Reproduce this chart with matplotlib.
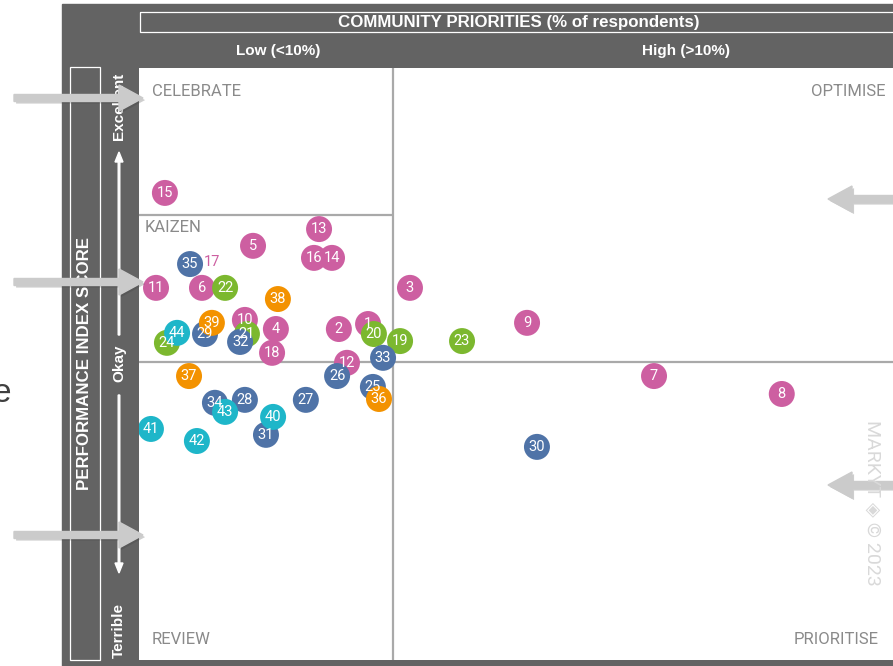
import matplotlib.pyplot as plt
import matplotlib.patheffects as pe
from matplotlib.patches import Rectangle, FancyArrow

# community priority (% of respondents) and performance index score per item
ids = list(range(1, 45))
priority = [9.02, 7.87, 10.67, 5.39, 4.49, 2.48, 20.28, 25.31, 15.28, 4.17,
            0.67, 8.19, 7.09, 7.60, 1.02, 6.89, None, 5.24, 10.28, 9.25,
            4.25, 3.39, 12.72, 1.10, 9.21, 7.80, 6.57, 4.17, 2.60, 15.67,
            5.00, 3.98, 9.61, 2.99, 2.01, 9.45, 1.97, 5.47, 2.87, 5.28,
            0.47, 2.28, 3.39, 1.50]
score = [12.9, 11.2, 25.2, 11.2, 39.5, 25.2, -4.8, -10.9, 13.3, 14.3,
         25.2, -0.3, 45.2, 35.4, 57.5, 35.4, None, 3.1, 7.1, 9.5,
         9.5, 25.2, 7.1, 6.5, -8.5, -4.8, -12.9, -12.9, 9.5, -28.9,
         -24.8, 6.8, 1.4, -13.9, 33.3, -12.6, -4.8, 21.4, 13.3, -18.7,
         -22.8, -26.9, -17.0, 9.9]
groups = ['pink'] * 18 + ['green'] * 6 + ['blue'] * 11 + ['orange'] * 4 + ['teal'] * 5
# item 17 only shows as a label
label17 = (2.87, 34.0)

colors = {'pink': '#cd5fa1', 'green': '#7cb82f', 'blue': '#4f73a7',
          'orange': '#f39200', 'teal': '#1eb6c9'}

fig = plt.figure(figsize=(8.93, 6.66), dpi=100)

# background layer in pixel coordinates
bg = fig.add_axes([0, 0, 1, 1])
bg.set_xlim(0, 893)
bg.set_ylim(666, 0)
bg.axis('off')
bg.add_patch(Rectangle((62, 4), 840, 670, color='#636363'))
bg.add_patch(Rectangle((140, 12), 800, 20, fill=False, ec='white', lw=0.9))
bg.add_patch(Rectangle((70, 67), 30, 593, fill=False, ec='white', lw=0.9))
bg.text(519, 22, 'COMMUNITY PRIORITIES (% of respondents)', color='white',
        fontsize=12.2, fontweight='bold', family='Liberation Sans', ha='center', va='center')
bg.text(278, 51, 'Low (<10%)', color='white', fontsize=11, fontweight='bold',
        family='Liberation Sans', ha='center', va='center')
bg.text(686, 51, 'High (>10%)', color='white', fontsize=11, fontweight='bold',
        family='Liberation Sans', ha='center', va='center')
bg.text(85, 364, 'PERFORMANCE INDEX SCORE', color='white', fontsize=12.2, fontweight='bold',
        family='Liberation Sans', ha='center', va='center', rotation=90)
for txt, yy in [('Excellent', 106), ('Okay', 363), ('Terrible', 630)]:
    bg.text(119, yy, txt, color='white', fontsize=11, fontweight='bold',
            family='Liberation Sans', ha='center', va='center', rotation=90)
bg.add_patch(FancyArrow(119, 335, 0, -183, width=1.6, head_width=8, head_length=10,
                        length_includes_head=True, color='white'))
bg.add_patch(FancyArrow(119, 395, 0, 178, width=1.6, head_width=8, head_length=10,
                        length_includes_head=True, color='white'))
bg.text(11, 393, 'e', color='#404040', fontsize=24, family='Liberation Sans',
        ha='right', va='center')

# chart area
ax = fig.add_axes([139 / 893, 6 / 666, (893 - 139) / 893, 592 / 666])
ax.set_facecolor('white')
ax.set_xlim(0, 29.69)
ax.set_ylim(-101.4, 100)
ax.set_xticks([])
ax.set_yticks([])
for s in ax.spines.values():
    s.set_visible(False)
ax.axvline(10, color='#a9a9a9', lw=1.6, zorder=1)
ax.axhline(0, color='#a9a9a9', lw=1.6, zorder=1)
ax.hlines(50, 0, 10, color='#a9a9a9', lw=1.6, zorder=1)

for i, x, y, g in zip(ids, priority, score, groups):
    if x is None:
        continue
    ax.scatter(x, y, s=350, color=colors[g], edgecolors='none', zorder=2 + i * 0.01)
    ax.text(x, y, str(i), color='white', fontsize=10.5, family='Roboto',
            ha='center', va='center', zorder=3)
ax.text(label17[0], label17[1], '17', color=colors['pink'], fontsize=10.5,
        family='Roboto', ha='center', va='center', zorder=1.5)

# top layer: quadrant names, watermark, pointer arrows
fg = fig.add_axes([0, 0, 1, 1])
fg.set_xlim(0, 893)
fg.set_ylim(666, 0)
fg.axis('off')
fg.patch.set_alpha(0)
qcol = '#8a8a8a'
fg.text(152, 91, 'CELEBRATE', color=qcol, fontsize=12, family='Roboto', ha='left', va='center')
fg.text(145, 227, 'KAIZEN', color=qcol, fontsize=12, family='Roboto', ha='left', va='center')
fg.text(885, 91, 'OPTIMISE', color=qcol, fontsize=12, family='Roboto', ha='right', va='center')
fg.text(152, 639, 'REVIEW', color=qcol, fontsize=12, family='Roboto', ha='left', va='center')
fg.text(879, 640, 'PRIORITISE', color=qcol, fontsize=12, family='Roboto', ha='right', va='center')
fg.text(872, 420, 'MARKYT \u25c8 \u00a9 2023', color='#d9d9d9', fontsize=14,
        family=['Roboto', 'DejaVu Sans'], ha='center', va='top', rotation=270)

shadow = [pe.SimplePatchShadow(offset=(1.5, -1.5), alpha=0.25), pe.Normal()]
for yy in [98, 282, 535]:
    fg.add_patch(FancyArrow(14, yy, 129, 0, width=7, head_width=26, head_length=24,
                            length_includes_head=True, color='#cbcbcb', path_effects=shadow))
for yy in [199, 485]:
    fg.add_patch(FancyArrow(900, yy, -72, 0, width=7, head_width=26, head_length=24,
                            length_includes_head=True, color='#cbcbcb', path_effects=shadow))

fig.savefig('out.png', dpi=100)
